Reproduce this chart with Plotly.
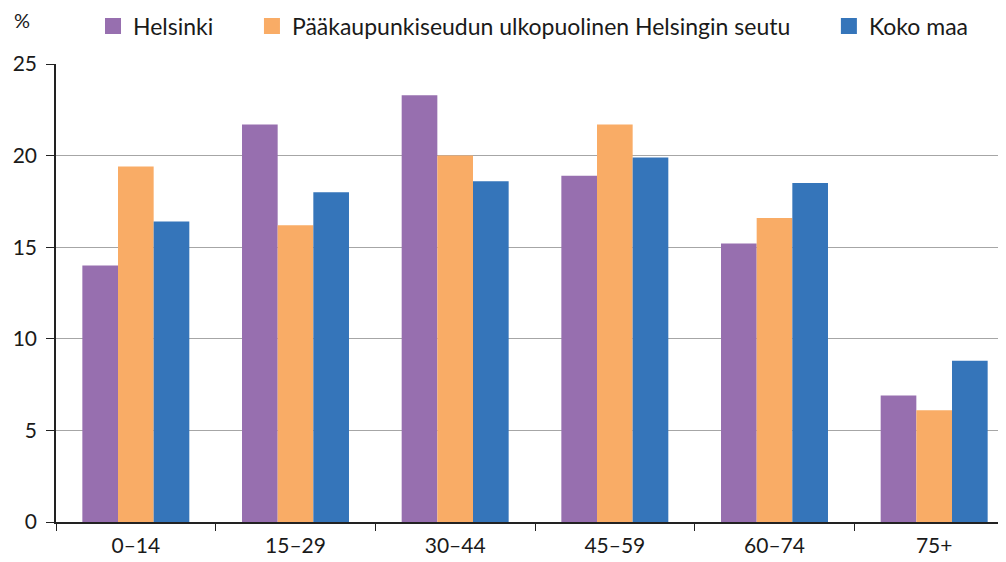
import plotly.graph_objects as go

age_groups = ["0–14", "15–29", "30–44", "45–59", "60–74", "75+"]
helsinki = [14.0, 21.7, 23.3, 18.9, 15.2, 6.9]
seutu = [19.4, 16.2, 20.0, 21.7, 16.6, 6.1]
koko_maa = [16.4, 18.0, 18.6, 19.9, 18.5, 8.8]

series = [
    ("Helsinki", helsinki, "#976FAF", "legend", 0.0845),
    ("Pääkaupunkiseudun ulkopuolinen Helsingin seutu", seutu, "#F9AC66", "legend2", 0.2425),
    ("Koko maa", koko_maa, "#3575BA", "legend3", 0.816),
]

FONT = "Lato, 'Open Sans', sans-serif"

fig = go.Figure()
for name, vals, color, leg, _ in series:
    fig.add_bar(x=age_groups, y=vals, name=name, marker_color=color,
                marker_line_width=0, showlegend=False)
    # legend entry with a bigger square swatch
    fig.add_scatter(x=[None], y=[None], mode="markers", name=name, legend=leg,
                    marker=dict(symbol="square", size=16, color=color))

legend_common = dict(orientation="h", yanchor="middle", y=0.968,
                     xref="container", yref="container",
                     font=dict(size=23, color="#1a1a1a", family=FONT),
                     bgcolor="rgba(0,0,0,0)", itemwidth=30, tracegroupgap=0)
layout_legends = {}
for name, vals, color, leg, xpos in series:
    layout_legends[leg] = dict(legend_common, x=xpos, xanchor="left")

# page body has an 8px margin, so the figure is offset by 8px right/down
fig.update_layout(
    width=1006, height=562,
    margin=dict(l=48, r=0, t=56, b=48, autoexpand=False),
    plot_bgcolor="white", paper_bgcolor="white",
    barmode="group", bargap=0.33, bargroupgap=0,
    font=dict(family=FONT, size=21, color="#1a1a1a"),
    showlegend=True,
    **layout_legends,
)

fig.update_xaxes(
    range=[-0.5, 5.5], showline=True, linecolor="#222", linewidth=1.5,
    ticks="outside", tickson="boundaries", ticklen=7, tickcolor="#222",
    tickfont=dict(size=21), ticklabelstandoff=4, showgrid=False,
)
fig.update_yaxes(
    range=[0, 25], dtick=5, showline=True, linecolor="#222", linewidth=1.5,
    ticks="outside", ticklen=8, tickcolor="#222", tickfont=dict(size=21),
    ticklabelstandoff=5,
    showgrid=True, gridcolor="#A6A6A6", gridwidth=1, zeroline=False,
)

fig.add_annotation(text="%", x=14, y=12, xref="paper", yref="paper",
                   xanchor="center", yanchor="middle", showarrow=False,
                   font=dict(size=20, family=FONT))
# place the % label in pixel terms: convert to paper coords
plot_w = 1006 - 48
plot_h = 562 - 56 - 48
fig.layout.annotations[0].update(x=(14 - 48) / plot_w, y=(562 - 12 - 48) / plot_h)

fig.write_html("out.html")
